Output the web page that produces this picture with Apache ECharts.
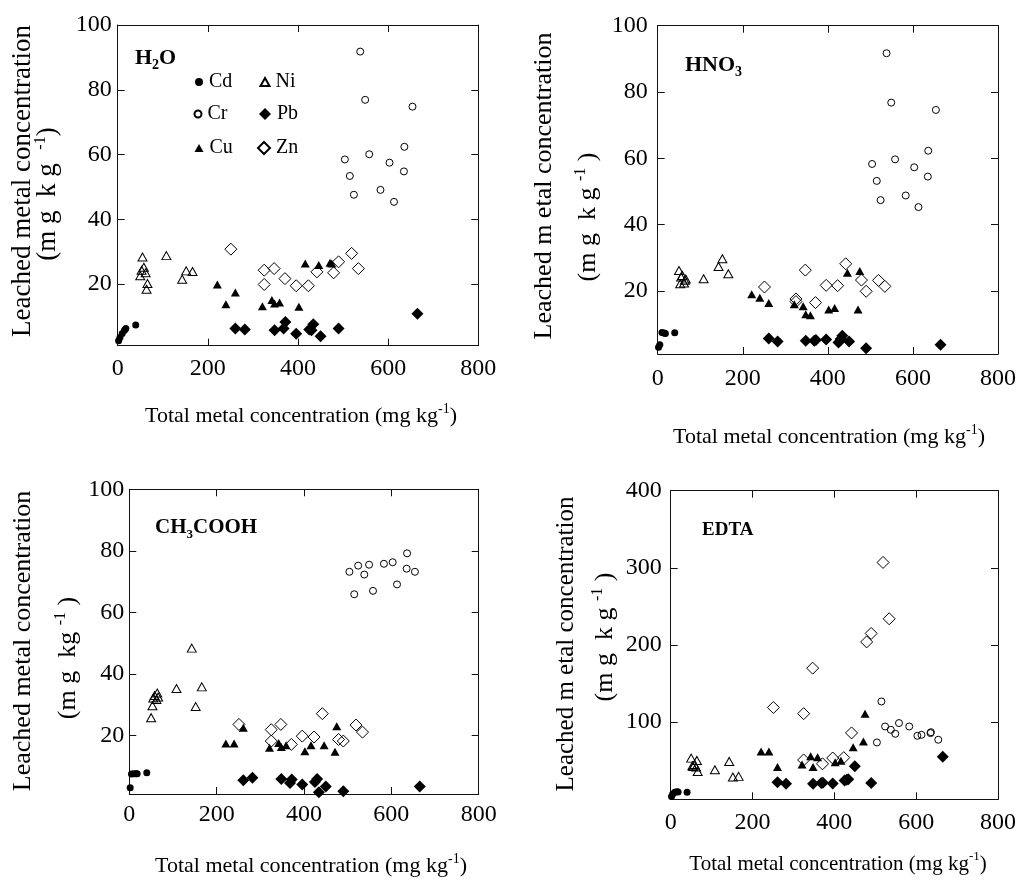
<!DOCTYPE html>
<html>
<head>
<meta charset="utf-8">
<script src="https://cdn.jsdelivr.net/npm/echarts@6/dist/echarts.min.js"></script>
<style>
html,body{margin:0;padding:0;background:#fff;}
#c{width:1019px;height:880px;}
</style>
</head>
<body>
<div id="c"></div>
<script>
// ---------- data ----------
const xTickLabels = [0, 200, 400, 600, 800];
const yTickLabelsSmall = [20, 40, 60, 80, 100];
const yTickLabelsEdta = [100, 200, 300, 400];

// total metal concentration (x)
const cdTotal = [2, 5, 10, 15, 18, 40];
const crTotal = [504, 515, 524, 538, 549, 558, 583, 603, 613, 635, 636, 654];
const cuTotal = [221, 240, 261, 321, 342, 348, 359, 402, 416, 446, 471, 475];
const niTotal = [50, 53, 55, 58, 62, 64, 66, 108, 143, 152, 166];
const pbTotal = [261, 282, 348, 368, 372, 396, 425, 430, 434, 450, 490, 665];
const znTotal = [251, 325, 325, 347, 371, 396, 423, 442, 479, 490, 519, 534];

// leached concentration (y) : H2O
const cdH2O = [2.5, 3.5, 4.8, 5.8, 6.3, 7.4];
const crH2O = [58.5, 53.4, 47.6, 91.8, 76.9, 60.1, 49.1, 57.5, 45.4, 54.8, 62.4, 74.8];
const cuH2O = [19.9, 13.8, 17.4, 13.2, 15.1, 14.0, 14.3, 13.0, 26.4, 25.9, 26.6, 26.4];
const niH2O = [22.6, 24.3, 28.4, 25.2, 23.5, 18.4, 20.2, 28.8, 21.5, 24.1, 23.9];
const pbH2O = [6.3, 6.0, 5.8, 6.3, 8.3, 4.7, 6.0, 5.8, 7.6, 3.9, 6.3, 10.9];
const znH2O = [30.8, 24.3, 19.9, 24.8, 21.7, 19.5, 19.5, 23.8, 23.5, 26.9, 29.5, 24.8];

// HNO3
const cdHNO3 = [3.0, 3.8, 7.5, 7.3, 7.2, 7.4];
const crHNO3 = [58.3, 53.2, 47.4, 91.7, 76.8, 59.7, 48.8, 57.3, 45.3, 54.5, 62.3, 74.6];
const cuHNO3 = [19.0, 18.0, 16.4, 16.0, 15.4, 13.0, 12.7, 14.4, 14.9, 25.5, 14.4, 26.0];
const niHNO3 = [26.2, 22.2, 24.2, 24.7, 22.4, 23.2, 23.6, 23.7, 27.4, 29.7, 25.2];
const pbHNO3 = [5.7, 4.8, 5.0, 5.0, 5.2, 5.4, 4.5, 5.5, 6.5, 4.8, 2.7, 3.8];
const znHNO3 = [21.2, 17.6, 16.8, 26.3, 16.5, 21.7, 21.6, 28.2, 23.3, 19.9, 23.2, 21.4];

// CH3COOH
const cdAcetic = [3.0, 7.5, 7.6, 7.6, 7.6, 7.9];
const crAcetic = [73.2, 65.9, 75.2, 72.3, 75.5, 67.0, 75.8, 76.3, 69.1, 74.2, 79.2, 73.2];
const cuAcetic = [17.4, 17.4, 22.5, 16.0, 17.6, 16.3, 16.8, 14.9, 16.8, 16.8, 14.7, 23.0];
const niAcetic = [25.8, 29.7, 32.2, 33.0, 31.7, 33.8, 32.5, 35.3, 48.4, 29.4, 35.8];
const pbAcetic = [5.5, 6.3, 5.9, 4.6, 5.7, 4.1, 4.9, 5.9, 1.6, 3.4, 1.9, 3.4];
const znAcetic = [23.6, 21.9, 18.2, 23.6, 17.1, 19.8, 19.5, 27.1, 18.7, 18.2, 23.4, 21.1];

// EDTA
const cdEDTA = [3.5, 6.8, 9.0, 9.9, 9.5, 9.0];
const crEDTA = [73.7, 126.8, 94.4, 90.1, 84.9, 98.8, 94.4, 82.3, 83.6, 85.8, 87.0, 77.2];
const cuEDTA = [62, 62, 42, 45, 55.7, 42, 54.4, 48, 50, 67.5, 75, 111];
const niEDTA = [53.4, 43.5, 42.6, 45, 41.7, 50.4, 36.1, 38.3, 49.1, 28.8, 29.7];
const pbEDTA = [22, 20.2, 20, 21, 21.5, 20.5, 24.5, 25.5, 26, 43, 21, 55];
const znEDTA = [119, 111, 51, 170, 46, 53.5, 54, 86, 204, 215, 307, 234];

// ---------- chart ----------
const FONT = '"Liberation Serif", "Times New Roman", serif';
const chart = echarts.init(document.getElementById('c'), null, {renderer: 'canvas'});

const panels = [
  {grid: {left: 117.7, top: 25, width: 360.6, height: 320.7}, ymin: 1, ymax: 100, yLabels: yTickLabelsSmall, xMargin: 11, yMargin: 6,
   ys: [cdH2O, crH2O, cuH2O, niH2O, pbH2O, znH2O]},
  {grid: {left: 657.7, top: 25.7, width: 344.6, height: 328.3}, ymin: 1, ymax: 100, yLabels: yTickLabelsSmall, xMargin: 13, yMargin: 10,
   ys: [cdHNO3, crHNO3, cuHNO3, niHNO3, pbHNO3, znHNO3]},
  {grid: {left: 129.3, top: 489.3, width: 349.4, height: 304.7}, ymin: 1, ymax: 100, yLabels: yTickLabelsSmall, xMargin: 9, yMargin: 5,
   ys: [cdAcetic, crAcetic, cuAcetic, niAcetic, pbAcetic, znAcetic]},
  {grid: {left: 670.7, top: 490.7, width: 332.6, height: 308.6}, ymin: 0, ymax: 400, yLabels: yTickLabelsEdta, xMargin: 11, yMargin: 9,
   ys: [cdEDTA, crEDTA, cuEDTA, niEDTA, pbEDTA, znEDTA]}
];

const metals = [
  {name: 'Cd', x: cdTotal, symbol: 'circle', size: 7, fill: '#000'},
  {name: 'Cr', x: crTotal, symbol: 'circle', size: 7, fill: 'transparent'},
  {name: 'Cu', x: cuTotal, symbol: 'triangle', size: [9, 8], fill: '#000'},
  {name: 'Ni', x: niTotal, symbol: 'triangle', size: [9, 8], fill: 'transparent'},
  {name: 'Pb', x: pbTotal, symbol: 'diamond', size: [12, 12], fill: '#000'},
  {name: 'Zn', x: znTotal, symbol: 'diamond', size: [12, 12], fill: 'transparent'}
];

const lineStyle = {color: '#111', width: 1};
const grids = [], xAxes = [], yAxes = [], series = [];
panels.forEach((p, i) => {
  grids.push(Object.assign({show: false}, p.grid));
  // bottom axis
  xAxes.push({type: 'value', gridIndex: i, min: 0, max: 800, interval: 200, position: 'bottom',
    axisLine: {show: true, onZero: false, lineStyle}, splitLine: {show: false},
    axisTick: {show: true, inside: true, length: 7, lineStyle},
    axisLabel: {show: true, margin: p.xMargin, color: '#000', fontFamily: FONT, fontSize: 24,
      customValues: xTickLabels}});
  yAxes.push({type: 'value', gridIndex: i, min: p.ymin, max: p.ymax, position: 'left',
    axisLine: {show: true, onZero: false, lineStyle}, splitLine: {show: false},
    axisTick: {show: true, inside: true, length: 7, lineStyle, customValues: p.yLabels},
    axisLabel: {show: true, margin: p.yMargin, color: '#000', fontFamily: FONT, fontSize: 24,
      customValues: p.yLabels}});
});
panels.forEach((p, i) => {
  // mirrored top / right axes (ticks only)
  xAxes.push({type: 'value', gridIndex: i, min: 0, max: 800, interval: 200, position: 'top',
    axisLine: {show: true, onZero: false, lineStyle}, splitLine: {show: false},
    axisTick: {show: true, inside: true, length: 7, lineStyle}, axisLabel: {show: false}});
  yAxes.push({type: 'value', gridIndex: i, min: p.ymin, max: p.ymax, position: 'right',
    axisLine: {show: true, onZero: false, lineStyle}, splitLine: {show: false},
    axisTick: {show: true, inside: true, length: 7, lineStyle, customValues: p.yLabels}, axisLabel: {show: false}});
});

panels.forEach((p, i) => {
  metals.forEach((m, k) => {
    const ys = p.ys[k];
    series.push({
      type: 'scatter', name: m.name, xAxisIndex: i, yAxisIndex: i,
      symbol: m.symbol, symbolSize: m.size,
      itemStyle: {color: m.fill, borderColor: '#000', borderWidth: m.fill === '#000' ? 0 : 1, opacity: 1},
      emphasis: {disabled: true},
      data: m.x.map((xv, j) => [xv, ys[j]])
    });
  });
});

// legends: one per entry for exact placement
const legendPos = [
  {name: 'Cd', cx: 199, cy: 82, w: 8, h: 8},
  {name: 'Cr', cx: 197, cy: 114, w: 7, h: 7},
  {name: 'Cu', cx: 199, cy: 148, w: 9, h: 8},
  {name: 'Ni', cx: 264, cy: 82, w: 9, h: 8},
  {name: 'Pb', cx: 265, cy: 114, w: 12, h: 12},
  {name: 'Zn', cx: 263, cy: 148, w: 12, h: 12}
];
const legends = legendPos.map(l => ({
  data: [l.name], left: l.cx - l.w / 2, top: l.cy - 11, padding: 0,
  itemWidth: l.w, itemHeight: l.h, selectedMode: false, orient: 'vertical',
  textStyle: {fontFamily: FONT, fontSize: 20, color: '#000', lineHeight: 22, padding: [0, 0, 0, 1]}
}));

function rotText(x, y, text, size) {
  return {type: 'text', x: x, y: y, rotation: Math.PI / 2, silent: true,
    style: {text: text, fontFamily: FONT, fontSize: size, fill: '#000', align: 'center', verticalAlign: 'middle',
      rich: {n: {fontFamily: FONT, fontSize: size, fill: '#000', lineHeight: size + 4},
             sup: {fontFamily: FONT, fontSize: Math.round(size * 0.6), fill: '#000', verticalAlign: 'top', lineHeight: size + 4}}}};
}
function xName(x, y, size) {
  return {type: 'text', x: x, y: y, silent: true,
    style: {text: '{n|Total metal concentration (mg kg}{sup|-1}{n|)}', fontFamily: FONT, fontSize: size, fill: '#000',
      align: 'center', verticalAlign: 'middle',
      rich: {n: {fontFamily: FONT, fontSize: size, fill: '#000', lineHeight: size + 6},
             sup: {fontFamily: FONT, fontSize: Math.round(size * 0.62), fill: '#000', verticalAlign: 'top', lineHeight: size + 6}}}};
}
function title(x, y, main, sub, tail, size) {
  return {type: 'text', x: x, y: y, silent: true,
    style: {text: '{b|' + main + '}' + (sub ? '{s|' + sub + '}' : '') + (tail ? '{b|' + tail + '}' : ''),
      fontFamily: FONT, fontSize: size, fontWeight: 'bold', fill: '#000', align: 'left', verticalAlign: 'middle',
      rich: {b: {fontFamily: FONT, fontSize: size, fontWeight: 'bold', fill: '#000', lineHeight: size + 6},
             s: {fontFamily: FONT, fontSize: Math.round(size * 0.62), fontWeight: 'bold', fill: '#000', verticalAlign: 'bottom', lineHeight: size + 6}}}};
}

const graphics = [
  title(135, 58, 'H', '2', 'O', 22),
  title(685, 65, 'HNO', '3', '', 22),
  title(155, 528, 'CH', '3', 'COOH', 21),
  title(702, 530, 'EDTA', '', '', 19),
  rotText(23, 181, '{n|Leached metal concentration}', 27),
  rotText(48, 194, '{n|(m g  k g  }{sup|-1}{n|)}', 27),
  rotText(544, 186, '{n|Leached m etal concentration}', 26),
  rotText(588, 217, '{n|(m g  k g }{sup|-1}{n| )}', 26),
  rotText(23, 641, '{n|Leached metal concentration}', 26),
  rotText(68, 658, '{n|(m g  kg }{sup|-1}{n| )}', 26),
  rotText(566, 644, '{n|Leached m etal concentration}', 25),
  rotText(605, 637, '{n|(m g  k g }{sup|-1}{n| )}', 26),
  xName(301, 416, 22),
  xName(829, 437, 22),
  xName(311, 866, 22),
  xName(838, 864, 21)
];

chart.setOption({
  animation: false,
  backgroundColor: '#fff',
  grid: grids,
  xAxis: xAxes,
  yAxis: yAxes,
  legend: legends,
  series: series,
  graphic: graphics
});
</script>
</body>
</html>
